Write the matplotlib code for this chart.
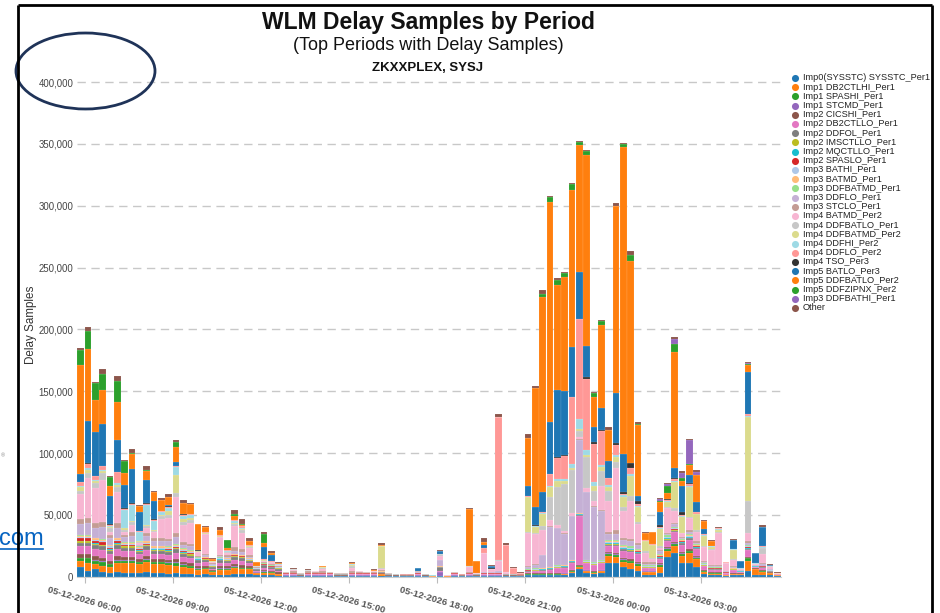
import numpy as np
import pandas as pd
import matplotlib
matplotlib.use('Agg')
import matplotlib.pyplot as plt
from matplotlib.patches import Ellipse
from matplotlib.ticker import FuncFormatter

plt.rcParams['font.family'] = ['Liberation Sans', 'DejaVu Sans']

# 15 minute intervals starting 05-12-2026 05:45
times = pd.date_range('2026-05-12 05:45', periods=96, freq='15min')

names = ['Imp0(SYSSTC) SYSSTC_Per1', 'Imp1 DB2CTLHI_Per1', 'Imp1 SPASHI_Per1', 'Imp1 STCMD_Per1',
         'Imp2 CICSHI_Per1', 'Imp2 DB2CTLLO_Per1', 'Imp2 DDFOL_Per1', 'Imp2 IMSCTLLO_Per1',
         'Imp2 MQCTLLO_Per1', 'Imp2 SPASLO_Per1', 'Imp3 BATHI_Per1', 'Imp3 BATMD_Per1',
         'Imp3 DDFBATMD_Per1', 'Imp3 DDFLO_Per1', 'Imp3 STCLO_Per1', 'Imp4 BATMD_Per2',
         'Imp4 DDFBATLO_Per1', 'Imp4 DDFBATMD_Per2', 'Imp4 DDFHI_Per2', 'Imp4 DDFLO_Per2',
         'Imp4 TSO_Per3', 'Imp5 BATLO_Per3', 'Imp5 DDFBATLO_Per2', 'Imp5 DDFZIPNX_Per2',
         'Imp3 DDFBATHI_Per1', 'Other']

colors = ['#1f77b4', '#ff7f0e', '#2ca02c', '#9467bd', '#8c564b', '#e377c2', '#7f7f7f', '#bcbd22',
          '#17becf', '#d62728', '#aec7e8', '#ffbb78', '#98df8a', '#c5b0d5', '#c49c94', '#f7b6d2',
          '#c7c7c7', '#dbdb8d', '#9edae5', '#ff9896', '#333333', '#1f77b4', '#ff7f0e', '#2ca02c',
          '#9467bd', '#8c564b']

# delay samples per interval, in thousands
imp0_sysstc = [8, 5, 6, 4, 3, 4, 3, 3, 3, 3.5, 3, 3,
               2.5, 3, 2, 2, 1.5, 2, 1, 1.5, 1.5, 2, 2, 2,
               1, 1, 1, .5, .3, .3, .2, .3, .3, .3, .3, .2,
               .2, .3, .3, .3, .3, .3, .2, .2, .2, .2, .3, .2,
               .1, .3, .1, .3, .2, .3, .2, .3, .3, .3, .2, .2,
               .2, 1, 1, 1, 1, 1, 1.5, 3, 6, 3, 2, 3,
               11, 11, 8, 6, 5, 1.5, 1.5, 3, 16, 19, 11, 11,
               8, 2, 1, 1.5, .5, 1, 1, 5, 1, 1, 1, .5]
imp1_db2ctlhi = [5, 6, 4, 5, 5, 7, 8, 8, 7, 8, 7, 7,
                 7, 6, 6, 5, 4, 4, 3, 4, 4, 5, 4, 4,
                 2, 2, 2, 1.5, .5, .5, .4, .5, .5, .5, .5, .4,
                 .4, .5, .5, .5, .5, 2, .4, .4, .3, .3, .5, .4,
                 .2, .5, .3, .5, .3, .5, .4, .5, .5, .5, .4, .4,
                 .3, .5, .5, .5, .5, .5, .5, 1, 2, 1.5, 1, 1.5,
                 6, 5, 4, 5, 4, 2, 2, 5, 5, 6, 6, 8,
                 6, 2, 1.5, 1, .5, 1, 1, 8, 5, 3, 2, .5]
imp1_spashi = [2, 4, 3, 3, 2, 2, 2, 2, 1.5, 2, 1.5, 1.5,
               1.5, 2, 1.5, 1.5, 1, 1, .5, 1, 1, 1, 1, 1,
               .3, 1, .5, .3, .1, .1, .1, .1, .1, .1, .1, .1,
               .1, .1, .1, .1, .1, .1, .1, .1, .1, .1, .1, .1,
               .05, .1, .05, .1, .1, .1, .1, .1, .1, .1, .1, .1,
               .1, .5, .5, .5, .5, .5, .5, .5, .5, .5, .5, .5,
               1.5, 1.5, 1.5, 1.5, 1.5, .5, .5, 1.5, 1.5, 1.5, 1.5, 1.5,
               1.5, .5, .3, .3, .2, .3, .2, 2, .2, .3, .2, .1]
imp1_stcmd = [.5, .5, .5, .5, .5, .5, .5, .5, .5, .5, .5, .5,
              .5, .5, .5, .5, .3, .3, .2, .3, .3, .3, .3, .3,
              .2, .3, .2, .2, .1, .1, .1, .1, .1, .1, .1, .1,
              .1, .1, .1, .1, .1, .1, .1, .1, .1, .1, .1, .1,
              .05, 2.6, .05, .1, .1, .1, .1, .1, .1, .1, .1, .1,
              .1, .3, .3, .3, .3, .3, .3, .3, .3, .3, .3, .3,
              .5, .5, .5, .5, .5, .3, .3, .5, .5, .5, .5, .5,
              .5, .3, .2, .2, .1, .2, .1, .3, .1, .2, .1, .1]
imp2_cicshi = [3, 3, 3, 3, 2.5, 3, 2.5, 2.5, 2, 2.5, 2, 2,
               2, 2.5, 2, 2, 1.5, 1.5, .5, 1.5, 1.5, 2, 2, 1.5,
               .5, 1, 1, 1, .5, .5, .4, .5, .5, .5, .5, .4,
               .4, .5, .5, .5, .5, .5, .4, .4, .3, .3, .5, .4,
               .2, .5, .3, .5, .3, .5, .4, .5, .5, .5, .4, .4,
               .3, .5, .5, .5, .5, .5, .5, .5, .5, .5, .5, .5,
               1, 1, 1, 1, 1, .5, .5, 1, 1, 1, 1, 1,
               1, .5, .6, .6, .4, .6, .4, 1, .4, .6, .4, .3]
imp2_db2ctllo = [6, 6, 6, 6, 5, 6, 5, 5, 4, 5, 4, 4,
                 4, 5, 4, 4, 3, 3, 1, 3, 2.5, 3, 3, 2,
                 1, 2, 1.5, 1.5, .3, .3, .3, .3, .3, .3, .3, .3,
                 .3, .3, .3, .3, .3, .3, .3, .3, .2, .2, .3, .3,
                 .1, .3, .2, .3, .2, .3, .3, .3, .3, .3, .3, .3,
                 .2, 1, 1.5, 2, 3, 4, 4, 6, 40, 5, 5, 5,
                 5, 6, 6, 6, 6, 2, 2, 3, 5, 8, 6, 8,
                 5, 3, 2, 2, 1, 2, 1, 5, 1, 2, .5, .3]
imp2_ddfol = [3, 3, 3, 3, 2.5, 3, 2.5, 2.5, 2, 3, 2.5, 2.5,
              2.5, 3, 2.5, 2, 2, 2, 2, 2, 2, 3, 3, 2,
              1, 2, 1.5, 1.5, .5, .5, .4, .5, .5, .5, .5, .4,
              .4, .5, .5, .5, .5, .5, .4, .4, .3, .3, .5, .4,
              .2, 3.5, .3, .5, .3, .5, .4, .5, .5, .5, .4, .4,
              .3, .5, .5, .5, .5, .5, .5, .5, .5, .5, .5, .5,
              1, 1, 1, 1, 1, .5, .5, 1, 1, 1, 1, 1,
              1, .5, .6, .6, .4, .6, .4, 1, .4, .6, .4, .3]
imp2_imsctllo = [1, 1, 1, 1, 1, 1, 1, 1, 1, 1, 1, 1,
                 1, 1, 1, 1, .5, .5, .3, .5, .5, .5, .5, .5,
                 .2, .3, .3, .3, .1, .1, .1, .1, .1, .1, .1, .1,
                 .1, .1, .1, .1, .1, .1, .1, .1, .1, .1, .1, .1,
                 .05, .1, .05, .1, .1, .1, .1, .1, .1, .1, .1, .1,
                 .1, .3, .3, .3, .3, .3, .3, .3, .3, .3, .3, .3,
                 .5, .5, .5, .5, .5, .3, .3, .5, .5, .5, .5, .5,
                 .5, .3, .2, .2, .1, .2, .1, .5, .1, .2, .1, .1]
imp2_mqctllo = [.5, .5, .5, .5, .5, .5, .5, .5, .5, .5, .5, .5,
                .5, .5, .5, .5, .3, .3, .2, .3, .3, .3, .3, .3,
                .2, .2, .2, .2, .1, .1, .1, .1, .1, .1, .1, .1,
                .1, .1, .1, .1, .1, .1, .1, .1, .1, .1, .1, .1,
                .05, .1, .05, .1, .1, .1, .1, .1, .1, .1, .1, .1,
                .1, .3, .3, .3, .3, .3, .3, .3, .3, .3, .3, .3,
                .5, .5, .5, .5, .5, .3, .3, .5, .5, .5, .5, .5,
                .5, .3, .2, .2, .1, .2, .1, .3, .1, .2, .1, .1]
imp2_spaslo = [2, 2, 2, 2, 1.5, 2, .5, .5, .5, .5, .5, .5,
               .5, .5, .5, .5, .3, .3, .2, .3, .3, .3, .3, .3,
               .2, .2, .2, .2, .1, .1, .1, .1, .1, .1, .1, .1,
               .1, .1, .1, .1, .1, .1, .1, .1, .1, .1, .1, .1,
               .05, .1, .05, .1, .1, .1, .1, .1, .1, .1, .1, .1,
               .1, .2, .2, .2, .2, .2, .2, .2, .2, .2, .2, .2,
               .5, .5, .5, .5, .5, .3, .3, .5, .5, .5, .5, .5,
               .5, .3, .2, .2, .1, .2, .1, 1, .1, .2, .1, .1]
imp3_bathi = [1, 1, 1, 1, 1, 1, 1, 1, 1, 1, 1, 1,
              1, 1, 1, 1, .5, .5, .3, .5, .5, .5, .5, .5,
              .2, .3, .3, .3, .1, .1, .1, .1, .1, .1, .1, .1,
              .1, .1, .1, .1, .1, .1, .1, .1, .1, .1, .1, .1,
              .05, .1, .05, .1, .1, .1, .1, .1, .1, .1, .1, .1,
              .1, .3, .3, .3, .3, .3, .3, .3, .3, .3, .3, .3,
              .5, .5, .5, .5, .5, .4, .4, .5, .5, .5, .5, .5,
              .5, .4, .2, .2, .2, .2, .2, .5, .2, .2, .2, .1]
imp3_batmd = [1, 1, 1, 1, 1, 1, 1, 1, 1, 1, 1, 1,
              1, 1, 1, 1, .5, .5, .3, .5, .5, .5, .5, .5,
              .2, .3, .3, .3, .1, .1, .1, .1, .1, .1, .1, .1,
              .1, .1, .1, .1, .1, .1, .1, .1, .1, .1, .1, .1,
              .05, .1, .05, .1, .1, .1, .1, .1, .1, .1, .1, .1,
              .1, .3, .3, .3, .3, .3, .3, .3, .3, .3, .3, .3,
              .5, .5, .5, .5, .5, .4, .4, .5, .5, .5, .5, .5,
              .5, .4, .2, .2, .2, .2, .2, .5, .2, .2, .2, .1]
imp3_ddfbatmd = [.5, .5, .5, .5, .5, .5, .5, .5, .5, .5, .5, .5,
                 .5, .5, .5, .5, .3, .3, .2, .3, .3, .3, .3, .3,
                 .2, .2, .2, .2, .1, .1, .1, .1, .1, .1, .1, .1,
                 .1, .1, .1, .1, .1, .1, .1, .1, .1, .1, .1, .1,
                 .05, .1, .05, .1, .1, .1, .1, .1, .1, .1, .1, .1,
                 .1, .5, .5, .5, .5, .5, .5, .5, .5, .5, .5, .5,
                 1, 1, 1, 1, 1, .5, .5, 1, 1, 1, 1, 1,
                 1, .5, .3, .3, .2, .3, .2, .5, .2, .3, .2, .2]
imp3_ddflo = [9, 10, 8, 10, 5, 8, 4, 5, 1, 4, 4, 4,
              4, 6, 3, 3, .5, 1, .5, 1, 1, 2, 2, 1,
              .2, .5, .3, .2, 0, 0, 0, 0, 0, 0, 0, 0,
              0, 0, 0, 0, 0, 0, 0, 0, 0, 0, .5, 0,
              0, 5, 0, 0, 0, 0, 0, 1, 1, 2, 0, 0,
              0, 2, 3, 10, 32, 30, 25, 35, 59, 55, 45, 40,
              5, 5, 4, 4, 3, 1, 1, 2, 1, 2, 1, 2,
              1, 1, 1, 1, .5, 1, .3, 2, .3, 1, .5, 0]
imp3_stclo = [4, 4, 4, 4, 3, 4, 2, 3, .5, 2, 2, 2,
              2, 3, 2, 2, .5, 1, .5, 1, 1, 3, 3, 1,
              .2, .5, .5, .5, .5, 1.5, .3, 1.5, 1, 2, .5, .3,
              .3, 2, 1, .5, 1, 1, .2, 0, 0, 0, 1, 0,
              0, 0, 0, .5, 0, 1, 0, 0, 0, 0, 0, 0,
              0, .5, .5, .5, .5, .5, .5, .5, .5, .5, .5, .5,
              2, 3, 2, 2, 2, 1, 1, 1, 1, 1, .5, 1,
              1, 1, 1, 1, .3, .5, .1, 1, .1, 1, 0, 0]
imp4_batmd = [20, 32, 28, 34, 2, 25, 2, 6, 1, 4, 5, 16,
              17, 29, 14, 17, 3, 16, 1, 14, 2, 17, 13, 6,
              .5, .5, 1.5, .5, .3, 1, 0, .5, .5, 1.5, 0, 0,
              0, 2, .5, 0, .5, 1, 0, 0, 0, 0, 0, 0,
              0, 3, 0, 0, 0, 4, .5, 15, 2, 8, 1.5, 0,
              .2, 27, 24, 20, 5, 2, 2, 2, 2, 3, 4, 20,
              25, 50, 22, 31, 15, 8, 3, 2, 20, 10, 3, 10,
              8, 11, 12, 26, 6, 5, 1, 7, 1, 7, 2, .5]
imp4_ddfbatlo = [3, 4, 4, 5, 3, 4, 2, 2, 1, 2, 1, 2,
                 2, 3, 2, 2, .5, .5, .5, .5, .5, 2, 2, 1,
                 .2, .5, .3, .3, 0, .5, 0, .5, 0, 1, 0, 0,
                 0, 2, 0, 0, 0, .5, 0, 0, 0, 0, 0, 0,
                 0, 2, 0, 0, 0, .5, 0, 0, 0, 1, 0, 0,
                 0, .5, 1, 3, 19, 31, 38, 35, 5, 25, 8, 12,
                 8, 5, 3, 4, 2, 1, 1, 1, 1, 2, .5, 1,
                 1, 1, .5, .5, .2, 1, .1, 25.6, .1, 5, .5, 0]
imp4_ddfbatmd = [3, 3, 2, 2, 1, 2, 1, 1, .5, 1, 1, 1,
                 4, 15, 3, 2, .3, .5, .3, .5, .5, 1, 1, .5,
                 .1, .5, .2, .2, 0, 0, 0, 0, 0, .5, 0, 0,
                 0, .5, 0, 0, 0, 18, 0, 0, 0, 0, 0, 0,
                 0, 0, 0, 0, 0, 0, 0, 0, 0, 0, 0, 0,
                 0, 28, 5, 10, 8, 5, 2, 2, 1, 2, 4, 3,
                 3, 4, 8, 16, 12, 8, 10, 14, 4, 21, 13, 24,
                 13, 8, 2, 2, .2, 7, .1, 68, .1, .5, 0, 0]
imp4_ddfhi = [1, 1, 1, 1, 1, 1, 15, 13, 8, 16, 7, 2,
              2, 6, 2, 2, .3, .5, .3, .5, .5, 1, 1, .5,
              .1, .5, .2, .2, 0, 0, 0, 0, 0, 0, 0, 0,
              0, 1, 0, 0, 0, 0, 0, 0, 0, 0, 0, 0,
              0, 0, 0, 0, 0, 0, 0, 0, 0, 0, 0, 0,
              0, .5, .5, .5, 1, 1, 1.5, 3, 8, 4, 3, 2,
              2, 2, 1.5, 1.5, 1, .5, .5, 1, .5, 1, .5, 1,
              .5, .5, .5, .5, .2, .5, .1, 1, .1, .5, 0, 0]
imp4_ddflo = [2.7, 4, 3, 3, 1, 9, 1, 1, .5, 1, 1, 1,
              1, 1, 1, 1, .3, .5, .2, .5, .5, 1, 1, .5,
              .1, .5, .2, .2, 0, 0, 0, 0, 0, 0, 0, 0,
              0, 0, 0, 0, 0, 0, 0, 0, 0, 0, 0, 0,
              0, 0, 0, 0, 0, 0, 0, 4, 0, 115, 22, 4.5,
              1, .5, .5, 1, 9, 17.5, 19, 54, 81, 57, 31, 27,
              5, 8, 1, 5, 1, 1, .5, 1, 1, 1.5, .5, 1.5,
              1, 1, .5, 1, .1, .5, .1, 1, .1, .5, 0, 0]
imp4_tso = [.3, .3, .3, .3, .3, .3, .3, .3, .3, .3, .3, .3,
            .3, .3, .3, .3, .2, .2, .1, .2, .2, .2, .2, .2,
            .1, .2, .1, .1, 0, 0, 0, 0, 0, 0, 0, 0,
            0, 0, 0, 0, 0, 0, 0, 0, 0, 0, 0, 0,
            0, 0, 0, 0, 0, 0, 0, 0, 1, 0, 0, 0,
            0, .2, .3, .3, .5, .5, .5, .5, .5, 1.5, 1.5, 1,
            .5, 2, 1.5, 4, 2.5, 0, 0, 1, 1, .5, 2.5, .5,
            .5, 0, 0, 0, 0, 0, 0, .5, 0, 0, 0, 0]
imp5_batlo = [6.7, 34, 35, 34, 23, 25.6, 19, 28, 15, 19, 15, 0,
              1, 2.7, 0, 0, 0, 0, 0, 0, 0, 0, 0, 0,
              0, 9.4, 5, 0, 0, 0, 0, 0, 0, 0, 0, 0,
              0, 0, 0, 0, .5, 0, 0, 0, 0, 0, 2.5, 0,
              0, 2.5, 0, 0, 0, 0, 0, 3, 2, 0, 0, 0,
              0, 8, 15, 16, 42, 54, 52, 40, 38, 25, 12.7, 17.5,
              13.5, 40, 31, 0, 4.5, 0, 0, 11, 0, 8, 21.6, 7,
              8, 4, 0, 0, 0, 7, 6, 33.7, 8, 16, 1, 0]
imp5_ddfbatlo = [88, 58, 26, 27, 8, 31, 9.4, 12, 5, 7, 7, 9,
                 7, 12.7, 9, 8, 21, 4, 1, 4, 2, 3, 1, 3,
                 3, 3, 2, 1, 0, .5, 0, 0, 0, .5, 0, 0,
                 0, 1, 0, 0, .5, .5, 0, 0, 0, 0, 0, 0,
                 0, 0, 0, 0, 0, 46, 10, 2, 0, 0, 0, 0,
                 0, 39, 96, 158, 178, 85, 92, 127, 102, 155, 24, 67,
                 25, 151, 248, 163, 57, 5, 9.5, 8, 5, 94, 4, 8,
                 21.6, 6.7, 3.5, 0, 0, 0, 0, 6, 0, 0, 0, 0]
imp5_ddfzipnx = [12, 15, 14, 13, 7.5, 17, 10, 1, 0, 1, 0, 0,
                 0, 3.5, 0, 0, 0, 0, .5, 0, 6, 2, 1, 0,
                 0, 7.5, 0, 0, 0, 0, 0, 0, 0, 0, 0, 0,
                 0, 0, 0, 0, 0, 0, 0, 0, 0, 0, 0, 0,
                 0, 0, 0, 0, 0, 0, 0, 0, 0, 0, 0, 0,
                 0, 0, 0, 2, 3.5, 4.5, 3, 5, 3, 3, 3, 3.5,
                 .5, .5, 2, 5, 1, 0, 0, .5, 5, 6.5, 2, 1,
                 .5, 0, 0, 0, 0, 0, 0, .5, 0, 0, 0, 0]
imp3_ddfbathi = [0, 0, 0, 0, 0, 0, 0, 0, 0, 0, 0, 0,
                 0, 0, 0, 0, 0, 0, 0, 0, 0, 0, 0, 0,
                 0, 0, 0, 0, 0, 0, 0, 0, 0, 0, 0, 0,
                 0, 0, 0, 0, 0, 0, 0, 0, 0, 0, 0, 0,
                 0, 0, 0, 0, 0, 0, 0, 0, 0, 0, 0, 0,
                 0, 0, 0, 0, 0, 0, 0, 0, 0, 0, 0, 0,
                 0, 0, 0, 0, 0, 0, 0, 2, 2, 4, 4, 19,
                 2, 0, 0, 0, 0, 0, 0, 1, 0, 0, 0, 0]
other = [2, 3, 1, 4, 1, 4, 1, 3, 1, 3, 1, 1,
         2, 2, 3, 1, .5, 1, .5, 2, .5, 3, 4, 2,
         .3, 2, 1, .5, .3, .5, .2, .5, .5, .5, .5, .2,
         .2, .5, .5, .5, .5, 1.5, .3, 0, 0, 0, .5, 0,
         0, 1, 0, 0, 0, 1.5, 0, 3, .5, 3, 1, .5,
         .3, 3, 2, 3, 1, 1, 1, 1, 1, 1, 1, 1,
         2, 2, 1, 3, 2, 1, .5, 1, 1, 2, 2, 1,
         1.5, .5, 1, 1, .5, 1, .3, .5, .5, 1, .5, .3]

series = [imp0_sysstc, imp1_db2ctlhi, imp1_spashi, imp1_stcmd, imp2_cicshi, imp2_db2ctllo,
          imp2_ddfol, imp2_imsctllo, imp2_mqctllo, imp2_spaslo, imp3_bathi, imp3_batmd,
          imp3_ddfbatmd, imp3_ddflo, imp3_stclo, imp4_batmd, imp4_ddfbatlo, imp4_ddfbatmd,
          imp4_ddfhi, imp4_ddflo, imp4_tso, imp5_batlo, imp5_ddfbatlo, imp5_ddfzipnx,
          imp3_ddfbathi, other]

W, H = 940, 613
fig = plt.figure(figsize=(W / 100, H / 100), dpi=100)

# main plot area (pixel box of the screenshot)
x0, x1, y_top, y_bot = 77.3, 781.3, 77.1, 576.7
ax = fig.add_axes([x0 / W, (H - y_bot) / H, (x1 - x0) / W, (y_bot - y_top) / H])

x = np.arange(len(times))
bottom = np.zeros(len(times))
for vals, c in zip(series, colors):
    v = np.array(vals, dtype=float) * 1000
    ax.bar(x, v, width=0.93, bottom=bottom, align='edge', color=c,
           edgecolor=(1, 1, 1, 0.3), linewidth=0.25, zorder=2)
    bottom += v

ax.set_xlim(0, len(times))
ax.set_ylim(0, 404000)
ax.set_yticks(np.arange(0, 400001, 50000))
ax.yaxis.set_major_formatter(FuncFormatter(lambda v, p: f'{v:,.0f}'))
ax.yaxis.grid(True, linestyle=(0, (6, 4)), color='#c8c8c8', linewidth=1)
ax.set_axisbelow(True)
for s in ['left', 'top', 'right']:
    ax.spines[s].set_visible(False)
ax.spines['bottom'].set_color('#cccccc')
ax.tick_params(axis='y', length=0, pad=3, labelsize=6.9, labelcolor='#444444')

tick_pos = [i for i, t in enumerate(times) if t.minute == 0 and t.hour % 3 == 0]
ax.set_xticks(tick_pos)
ax.set_xticklabels([times[i].strftime('%m-%d-%Y %H:%M') for i in tick_pos],
                   rotation=-16, ha='center', fontsize=6.8, fontweight='bold', color='#555555')
ax.tick_params(axis='x', length=4, color='#bbbbbb', pad=2)

ax.set_ylabel('Delay Samples', fontsize=8.4, color='#333333')
ax.yaxis.set_label_coords(-(x0 - 37) / (x1 - x0), 0.504)

# overlay in pixel coordinates for titles, legend and screenshot decorations
ov = fig.add_axes([0, 0, 1, 1], zorder=5)
ov.set_xlim(0, W)
ov.set_ylim(H, 0)
ov.axis('off')

ov.text(428, 23, 'WLM Delay Samples by Period', ha='center', va='center',
        fontsize=16.5, fontweight='bold', color='#111111')
ov.text(428, 46, '(Top Periods with Delay Samples)', ha='center', va='center',
        fontsize=13, color='#111111')
ov.text(428, 68, 'ZKXXPLEX, SYSJ', ha='center', va='center',
        fontsize=9.5, fontweight='bold', color='#111111')

for i, (nm, c) in enumerate(zip(names, colors)):
    yy = 78 + i * 9.2
    ov.scatter([795], [yy], s=26, color=c, linewidths=0)
    ov.text(803, yy, nm, ha='left', va='center', fontsize=6.6, color='#222222')

# screenshot frame and annotations
ov.plot([18, 18], [5, H], color='black', lw=2, solid_capstyle='butt')
ov.plot([18, 932], [5, 5], color='black', lw=2, solid_capstyle='butt')
ov.plot([932, 932], [5, H], color='black', lw=2, solid_capstyle='butt')
ov.add_patch(Ellipse((85.5, 71), 139, 76, fill=False, edgecolor='#1f3358', lw=2))
ov.text(-1, 545, 'com', ha='left', va='baseline', fontsize=17, color='#0563c1', zorder=1)
ov.plot([0, 43], [549, 549], color='#0563c1', lw=1.2, zorder=1)
ov.text(1, 456, '®', ha='left', va='center', fontsize=4, color='#888888')

fig.savefig('out.png', dpi=100)
